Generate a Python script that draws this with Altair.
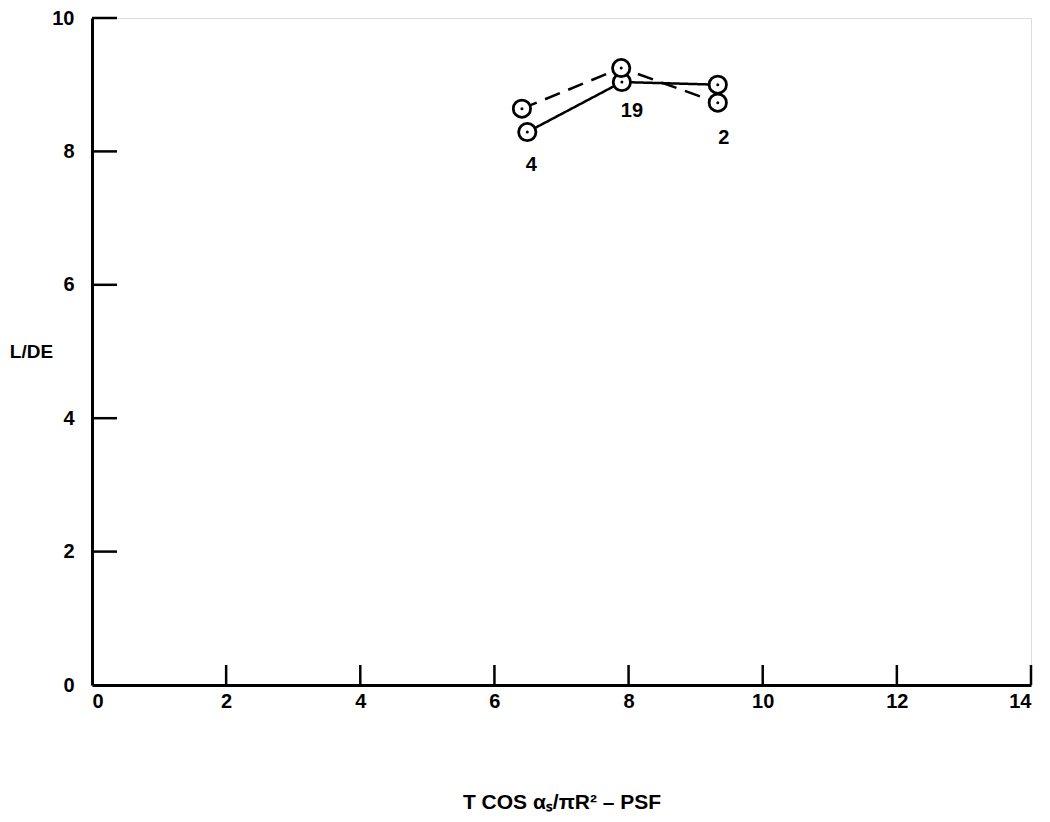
import altair as alt
import pandas as pd

# Data
solid_x = [6.49, 7.90, 9.33]
solid_y = [8.29, 9.04, 9.00]
dashed_x = [6.41, 7.89, 9.33]
dashed_y = [8.64, 9.25, 8.73]
point_labels = ["4", "19", "2"]
label_x = [6.55, 8.05, 9.42]
label_y = [7.8, 8.6, 8.2]
x_ticks = [2, 4, 6, 8, 10, 12, 14]
y_ticks = [2, 4, 6, 8, 10]

FONT = "Liberation Sans"
W, H = 939, 667

df = pd.DataFrame({
    "x": solid_x + dashed_x,
    "y": solid_y + dashed_y,
    "series": ["solid"] * 3 + ["dashed"] * 3,
    "order": [0, 1, 2, 0, 1, 2],
})
lab = pd.DataFrame({"x": label_x, "y": label_y, "t": point_labels})
xt = pd.DataFrame({"v": x_ticks})
yt = pd.DataFrame({"v": y_ticks})

xs = alt.Scale(domain=[0, 14], nice=False, zero=True)
ys = alt.Scale(domain=[0, 10], nice=False)

xaxis = alt.Axis(values=[0, 2, 4, 6, 8, 10, 12, 14], format="d", ticks=False, grid=False,
                 domainWidth=3, domainColor="black", labelFont=FONT, labelFontSize=20,
                 labelFontWeight="bold", labelColor="black", labelPadding=6,
                 title="T COS αₛ/πR² – PSF", titleFont=FONT, titleFontSize=21,
                 titleFontWeight="bold", titleColor="black", titlePadding=80)
yaxis = alt.Axis(values=[0, 2, 4, 6, 8, 10], format="d", ticks=False, grid=False,
                 domainWidth=3, domainColor="black", labelFont=FONT, labelFontSize=20,
                 labelFontWeight="bold", labelColor="black", labelPadding=18,
                 title="L/DE", titleFont=FONT, titleFontSize=19, titleFontWeight="bold",
                 titleColor="black", titleAngle=0, titleAlign="center", titleBaseline="middle",
                 titleX=-61, titleY=H / 2)

base = alt.Chart(df)

lines = base.mark_line(color="black", strokeWidth=2.5).encode(
    x=alt.X("x:Q", scale=xs, axis=xaxis),
    y=alt.Y("y:Q", scale=ys, axis=yaxis),
    strokeDash=alt.StrokeDash("series:N", scale=alt.Scale(domain=["solid", "dashed"],
                                                         range=[[1, 0], [16, 9]]), legend=None),
    detail="series:N",
    order="order:Q",
)
circles = base.mark_point(shape="circle", size=300, filled=False, fill="white",
                          fillOpacity=1, stroke="black", strokeWidth=2.8, opacity=1).encode(
    x=alt.X("x:Q", scale=xs), y=alt.Y("y:Q", scale=ys))
dots = base.mark_point(shape="circle", size=9, filled=True, color="black", opacity=1).encode(
    x=alt.X("x:Q", scale=xs), y=alt.Y("y:Q", scale=ys))
texts = alt.Chart(lab).mark_text(font=FONT, fontSize=20, fontWeight="bold", color="black").encode(
    x=alt.X("x:Q", scale=xs), y=alt.Y("y:Q", scale=ys), text="t:N")

xtick = alt.Chart(xt).mark_rule(color="black", strokeWidth=2.5).encode(
    x=alt.X("v:Q", scale=xs), y=alt.value(H), y2=alt.value(H - 20))
ytick = alt.Chart(yt).mark_rule(color="black", strokeWidth=2.5).encode(
    y=alt.Y("v:Q", scale=ys), x=alt.value(0), x2=alt.value(25))

chart = alt.layer(xtick, ytick, lines, circles, dots, texts).properties(
    width=W, height=H, padding={"left": 1, "top": 0, "right": 5, "bottom": 5}
).configure_view(stroke=None).configure(background="white")

chart.save("out.html", embed_options={"renderer": "svg", "actions": False})
